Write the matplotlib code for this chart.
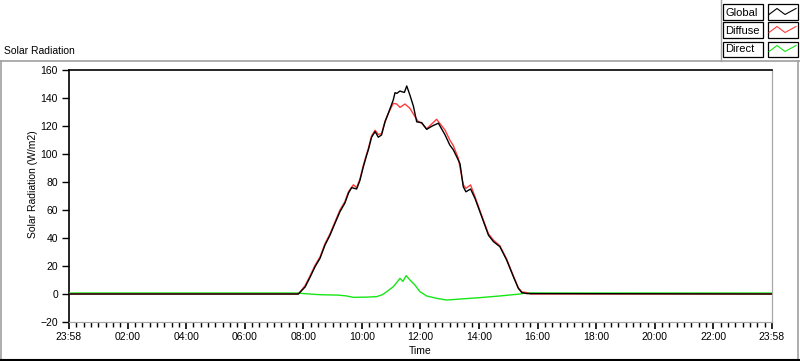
import matplotlib
matplotlib.use('Agg')
import matplotlib.pyplot as plt
from matplotlib.lines import Line2D
from matplotlib.patches import Rectangle
from matplotlib.ticker import MultipleLocator

plt.rcParams['font.family'] = ['Liberation Sans', 'DejaVu Sans']

# ---------------- data (hours after 23:58) ----------------
series_names = ["Global", "Diffuse", "Direct"]
series_colors = ["#000000", "#ff3b3b", "#16e616"]

global_t = [0, 7.83, 8.06, 8.23, 8.40, 8.57, 8.74, 8.91, 9.08, 9.25, 9.42, 9.54,
            9.65, 9.82, 9.93, 10.05, 10.16, 10.22, 10.33, 10.45, 10.56, 10.67,
            10.79, 10.90, 11.07, 11.13, 11.19, 11.30, 11.36, 11.45, 11.53, 11.64,
            11.76, 11.87, 12.04, 12.21, 12.40, 12.61, 12.84, 13.00, 13.12, 13.29,
            13.35, 13.46, 13.55, 13.71, 13.86, 14.09, 14.32, 14.49, 14.71, 14.94,
            15.17, 15.34, 15.46, 15.63, 24]
global_v = [0, 0, 5, 12, 19.5, 25.5, 35, 42, 50.5, 58.8, 65, 72,
            76, 75, 81, 91, 99, 103, 112, 116, 112, 113.6,
            123, 129, 138.6, 143.8, 143.3, 145, 144.5, 144, 148.6, 142,
            134, 123, 122.4, 117.6, 120, 122, 113.6, 106.4, 103, 95.7,
            93, 76.6, 73, 75, 68.3, 55.2, 42, 37.4, 33.8, 24.3,
            12.4, 4.0, 1, 0.3, 0]

diffuse_t = [0, 7.83, 8.06, 8.23, 8.40, 8.57, 8.74, 8.91, 9.08, 9.25, 9.42, 9.54,
             9.71, 9.82, 9.93, 10.05, 10.16, 10.22, 10.33, 10.45, 10.56, 10.67,
             10.79, 10.90, 11.07, 11.19, 11.30, 11.47, 11.64, 11.81, 11.93, 12.04,
             12.21, 12.55, 12.84, 13.00, 13.12, 13.29, 13.46, 13.55, 13.71, 13.86,
             14.09, 14.32, 14.49, 14.71, 14.94, 15.17, 15.34, 15.46, 15.63, 15.75, 24]
diffuse_v = [0, 0, 6, 13, 20.5, 26.5, 36, 43, 51.5, 60, 66, 73,
             78, 76, 82, 92, 100, 104, 113, 117, 114, 114.5,
             123.5, 129, 136.2, 135.7, 133.3, 135.7, 132.6, 126.7, 123, 122,
             118, 124.8, 117, 110, 106, 97, 78, 75.5, 77.9, 69.5,
             56, 43, 38.5, 34.5, 25, 13, 4.5, 1.5, 1, 0, 0]

direct_t = [0, 7.85, 8.0, 8.57, 9.2, 9.48, 9.71, 10.2, 10.5, 10.7, 10.85, 11.07,
            11.2, 11.3, 11.4, 11.51, 11.64, 11.81, 11.98, 12.21, 12.55, 12.89,
            13.1, 13.35, 14.03, 14.71, 15.4, 15.63, 15.8, 24]
direct_v = [0.7, 0.7, 0.3, -0.5, -0.8, -1.4, -2.4, -2.2, -1.9, -0.5, 1.7, 5.2,
            8.5, 11.2, 9, 13.1, 10, 6.4, 1.7, -1.4, -3.1, -4.3,
            -4.0, -3.6, -2.6, -1.4, 0, 0.9, 0.7, 0.7]

x_tick_pos = [0, 2, 4, 6, 8, 10, 12, 14, 16, 18, 20, 22, 24]
x_tick_labels = ["23:58", "02:00", "04:00", "06:00", "08:00", "10:00", "12:00",
                 "14:00", "16:00", "18:00", "20:00", "22:00", "23:58"]
y_ticks = [-20, 0, 20, 40, 60, 80, 100, 120, 140, 160]

title = "Solar Radiation"
y_label = "Solar Radiation (W/m2)"
x_label = "Time"

# ---------------- figure ----------------
W, H = 800, 361
fig = plt.figure(figsize=(8, 3.61), dpi=100)


def fx(px):
    return px / W


def fy(py):
    return 1 - py / H


ax = fig.add_axes([fx(69), fy(322), fx(772) - fx(69), fy(70) - fy(322)])

series = [(global_t, global_v), (diffuse_t, diffuse_v), (direct_t, direct_v)]
for i in [2, 1, 0]:
    t, v = series[i]
    ax.plot(t, v, color=series_colors[i], lw=1.0, zorder=3 + (2 - i))

ax.set_xlim(0, 24)
ax.set_ylim(-20, 160)
ax.set_yticks(y_ticks)
ax.set_xticks(x_tick_pos)
ax.set_xticklabels(x_tick_labels)
ax.xaxis.set_minor_locator(MultipleLocator(0.25))

for s in ['left', 'top']:
    ax.spines[s].set_color('black')
    ax.spines[s].set_linewidth(1.2)
for s in ['right', 'bottom']:
    ax.spines[s].set_color('#a8a8a8')
    ax.spines[s].set_linewidth(0.9)

ax.tick_params(axis='y', direction='out', length=5, width=1, pad=3,
               labelsize=7.5, colors='black')
ax.tick_params(axis='x', which='major', direction='out', length=5, width=1.2,
               pad=2, labelsize=7.5)
ax.tick_params(axis='x', which='minor', direction='out', length=3.5, width=1)

fig.text(fx(420.5), fy(351), x_label, ha='center', va='center', fontsize=7.5)
fig.text(fx(33), fy(184), y_label, ha='center', va='center', rotation=90,
         fontsize=7.5)
fig.text(fx(4), fy(51), title, ha='left', va='center', fontsize=7.5)

# panel border
gray = '#a0a0a0'
fig.add_artist(Line2D([0, 1], [fy(61), fy(61)], color=gray, lw=1.2,
                      transform=fig.transFigure))
fig.add_artist(Line2D([fx(0.7), fx(0.7)], [fy(61), fy(360)], color=gray, lw=1.2,
                      transform=fig.transFigure))
fig.add_artist(Line2D([fx(798), fx(798)], [fy(61), fy(360)], color=gray, lw=1.2,
                      transform=fig.transFigure))
fig.add_artist(Line2D([0, 1], [fy(360), fy(360)], color='black', lw=1.5,
                      transform=fig.transFigure))
fig.add_artist(Line2D([fx(720.5), fx(720.5)], [fy(0), fy(61)], color=gray, lw=1,
                      transform=fig.transFigure))

# legend
rows_y = [4.5, 22.5, 41.5]
box_h = 15
for name, col, y0 in zip(series_names, series_colors, rows_y):
    fig.add_artist(Rectangle((fx(723), fy(y0 + box_h)), fx(763) - fx(723),
                             fy(y0) - fy(y0 + box_h), fill=False, ec='black',
                             lw=0.9, transform=fig.transFigure))
    fig.add_artist(Rectangle((fx(767.5), fy(y0 + box_h)), fx(798) - fx(767.5),
                             fy(y0) - fy(y0 + box_h), fill=False, ec='black',
                             lw=0.9, transform=fig.transFigure))
    fig.text(fx(725), fy(y0 + box_h / 2 + 0.5), name, ha='left', va='center',
             fontsize=8)
    sx = [769, 777, 785, 796]
    sy = [y0 + 10, y0 + 4, y0 + 10, y0 + 4]
    fig.add_artist(Line2D([fx(a) for a in sx], [fy(b) for b in sy], color=col,
                          lw=0.8, transform=fig.transFigure))

fig.savefig('out.png', dpi=100)
